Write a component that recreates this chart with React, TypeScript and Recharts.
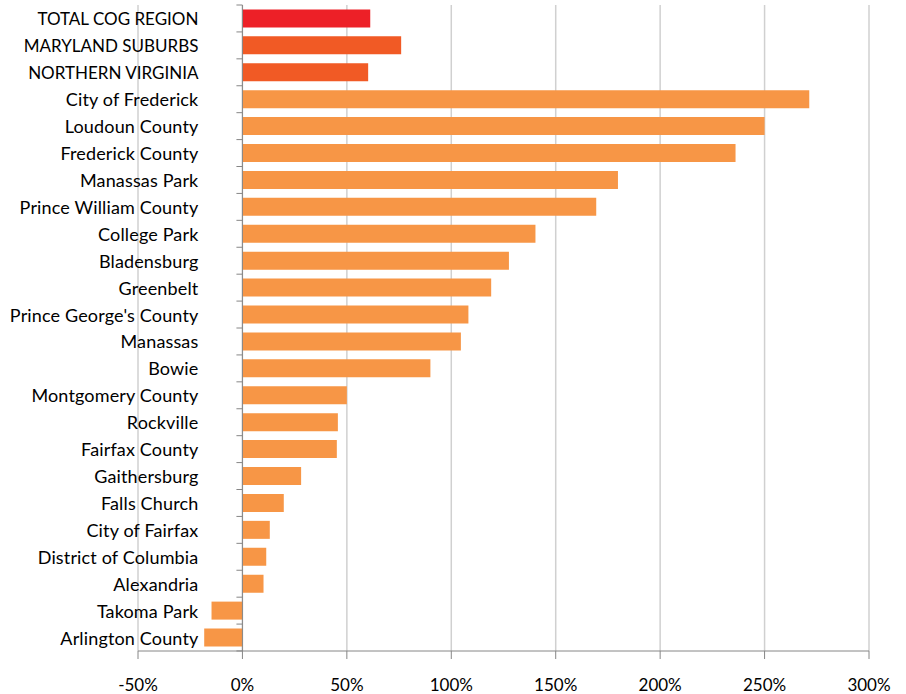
import React from 'react';
import { BarChart, Bar, XAxis, YAxis, CartesianGrid, Cell, LabelList, ReferenceLine } from 'recharts';

const categories = [
  'TOTAL COG REGION',
  'MARYLAND SUBURBS',
  'NORTHERN VIRGINIA',
  'City of Frederick',
  'Loudoun County',
  'Frederick County',
  'Manassas Park',
  'Prince William County',
  'College Park',
  'Bladensburg',
  'Greenbelt',
  "Prince George's County",
  'Manassas',
  'Bowie',
  'Montgomery County',
  'Rockville',
  'Fairfax County',
  'Gaithersburg',
  'Falls Church',
  'City of Fairfax',
  'District of Columbia',
  'Alexandria',
  'Takoma Park',
  'Arlington County',
];

const growth = [
  61.2, 76.0, 60.2, 271.4, 250.0, 236.1, 179.8, 169.4, 140.3, 127.6, 119.1, 108.2,
  104.6, 90.0, 50.0, 45.7, 45.2, 28.1, 19.8, 13.1, 11.4, 10.1, -14.8, -18.3,
];

const xTicks = [-50, 0, 50, 100, 150, 200, 250, 300];

const regionTotalRows = ['TOTAL COG REGION'];
const subregionRows = ['MARYLAND SUBURBS', 'NORTHERN VIRGINIA'];

const data = categories.map((name, i) => ({ name, value: growth[i] }));

const FONT = 'Lato, "Noto Sans", sans-serif';
const AXIS_COLOR = '#868686';
const GAP = 0.165;

const colorFor = (name: string) =>
  regionTotalRows.includes(name) ? '#ED2027' : subregionRows.includes(name) ? '#F15A25' : '#F79646';

const CategoryLabel = (props: any) => {
  const vb = props.viewBox || props;
  const { x, y, width, height } = vb;
  const index = props.index;
  const v = growth[index];
  const label = categories[index];
  const allCaps = label === label.toUpperCase();
  const zeroX = width < 0 ? x : v < 0 ? x + width : x;
  const cy = y + height / 2;
  const band = height / (1 - 2 * GAP);
  const top = cy - band / 2;
  const bottom = cy + band / 2;
  return (
    <g>
      <line x1={zeroX - 6} x2={zeroX} y1={top} y2={top} stroke={AXIS_COLOR} strokeWidth={1} />
      {index === categories.length - 1 && (
        <line x1={zeroX - 6} x2={zeroX} y1={bottom} y2={bottom} stroke={AXIS_COLOR} strokeWidth={1} />
      )}
      <text
        x={zeroX - 44}
        y={cy}
        textAnchor="end"
        dominantBaseline="central"
        fontFamily={FONT}
        fontSize={allCaps ? 17 : 18}
        letterSpacing={allCaps ? 0 : 0.15}
        fill="#000"
      >
        {label}
      </text>
    </g>
  );
};

export default function App() {
  return (
    <div style={{ position: 'absolute', left: 0, top: 0 }}>
      <BarChart
        width={906}
        height={694}
        data={data}
        layout="vertical"
        margin={{ top: 5, right: 37, bottom: 0, left: 138 }}
        barCategoryGap={`${GAP * 100}%`}
      >
        <CartesianGrid vertical horizontal={false} stroke="#D0D0D0" strokeWidth={1.5} />
        <XAxis
          type="number"
          domain={[-50, 300]}
          ticks={xTicks}
          interval={0}
          allowDataOverflow
          tickFormatter={(v: number) => `${v}%`}
          stroke={AXIS_COLOR}
          tickSize={8}
          tickMargin={20}
          height={43}
          tick={{ fontFamily: FONT, fontSize: 17, fill: '#000' }}
        />
        <YAxis type="category" dataKey="name" hide />
        <Bar dataKey="value" isAnimationActive={false}>
          {data.map((d) => (
            <Cell key={d.name} fill={colorFor(d.name)} />
          ))}
          <LabelList dataKey="name" content={CategoryLabel} />
        </Bar>
        <ReferenceLine x={0} stroke={AXIS_COLOR} strokeWidth={1} />
      </BarChart>
    </div>
  );
}
